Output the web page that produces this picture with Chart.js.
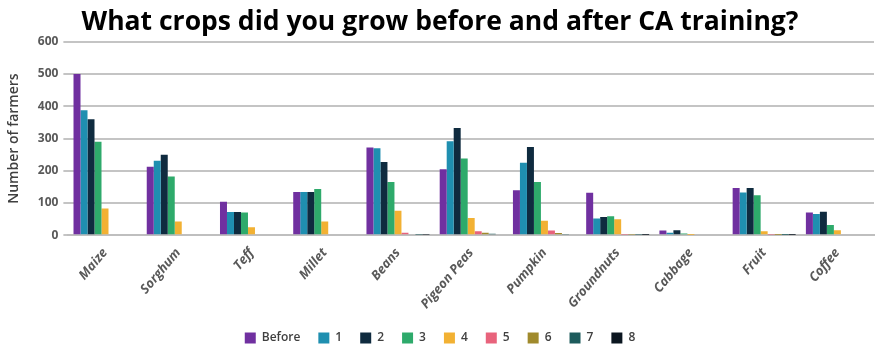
<!DOCTYPE html>
<html>
<head>
<meta charset="utf-8">
<script src="https://cdn.jsdelivr.net/npm/chart.js@4"></script>
<style>
  html, body { margin: 0; padding: 0; background: #fff; }
  #wrap { width: 880px; height: 346px; }
</style>
</head>
<body>
<div id="wrap"><canvas id="cropChart" width="880" height="346"></canvas></div>
<script>
// Crops grown before and after CA training
const crops = ["Maize", "Sorghum", "Teff", "Millet", "Beans", "Pigeon Peas", "Pumpkin", "Groundnuts", "Cabbage", "Fruit", "Coffee"];

const before = [500, 213, 104, 134, 272, 205, 140, 132, 15, 147, 71];
const year1  = [388, 231, 72, 134, 270, 292, 225, 52, 8, 133, 66];
const year2  = [360, 250, 72, 134, 227, 333, 274, 57, 16, 147, 73];
const year3  = [290, 182, 71, 144, 165, 238, 165, 59, 6, 124, 32];
const year4  = [83, 43, 25, 43, 76, 54, 45, 50, 1, 13, 16];
const year5  = [0, 0, 0, 0, 8, 13, 15, 2, 0, 2, 0];
const year6  = [0, 0, 0, 0, 3, 8, 7, 2, 0, 1, 0];
const year7  = [0, 0, 0, 0, 2, 5, 4, 2, 0, 1, 0];
const year8  = [0, 0, 0, 0, 2, 3, 3, 1, 0, 1, 0];

const seriesNames = ["Before", "1", "2", "3", "4", "5", "6", "7", "8"];
const seriesData = [before, year1, year2, year3, year4, year5, year6, year7, year8];
const seriesColors = ["#7030a0", "#1f8fb0", "#0f2b3f", "#2eaa6b", "#f2b133", "#e8637c", "#a08a2c", "#1d5b5c", "#0b1620"];

const yTicks = [0, 100, 200, 300, 400, 500, 600];

const ctx = document.getElementById("cropChart").getContext("2d");

new Chart(ctx, {
  type: "bar",
  data: {
    labels: crops,
    datasets: seriesNames.map((name, i) => ({
      label: name,
      data: seriesData[i],
      backgroundColor: seriesColors[i],
      borderWidth: 0,
      categoryPercentage: 0.86,
      barPercentage: 1.0,
    })),
  },
  options: {
    responsive: false,
    animation: false,
    layout: { padding: { left: 6, right: 6, top: 0, bottom: -8 } },
    plugins: {
      title: {
        display: true,
        text: "What crops did you grow before and after CA training?",
        color: "#000",
        font: { family: "'Open Sans', sans-serif", size: 26.5, weight: "bold" },
        padding: { top: 7, bottom: 3 },
      },
      legend: {
        position: "bottom",
        labels: {
          boxWidth: 11,
          boxHeight: 11,
          padding: 18,
          color: "#404040",
          font: { family: "'Open Sans', sans-serif", size: 12, weight: "600" },
        },
      },
      tooltip: { enabled: false },
    },
    scales: {
      x: {
        grid: { display: false },
        border: { display: true, color: "#bfbfbf", width: 2 },
        ticks: {
          color: "#595959",
          maxRotation: 50,
          minRotation: 50,
          padding: 2,
          font: { family: "'Open Sans', sans-serif", size: 13, style: "italic", weight: "bold" },
        },
      },
      y: {
        min: 0,
        max: 600,
        afterBuildTicks: (axis) => { axis.ticks = yTicks.map((v) => ({ value: v })); },
        grid: { color: "#c4c4c4", lineWidth: 2, tickLength: 5, tickColor: "#c4c4c4" },
        border: { display: false },
        ticks: {
          color: "#595959",
          padding: 5,
          font: { family: "'Open Sans', sans-serif", size: 12, weight: "bold" },
        },
        title: {
          display: true,
          text: "Number of farmers",
          color: "#404040",
          padding: { top: 0, bottom: 10 },
          font: { family: "'Open Sans', sans-serif", size: 14, weight: "600" },
        },
      },
    },
  },
});
</script>
</body>
</html>
